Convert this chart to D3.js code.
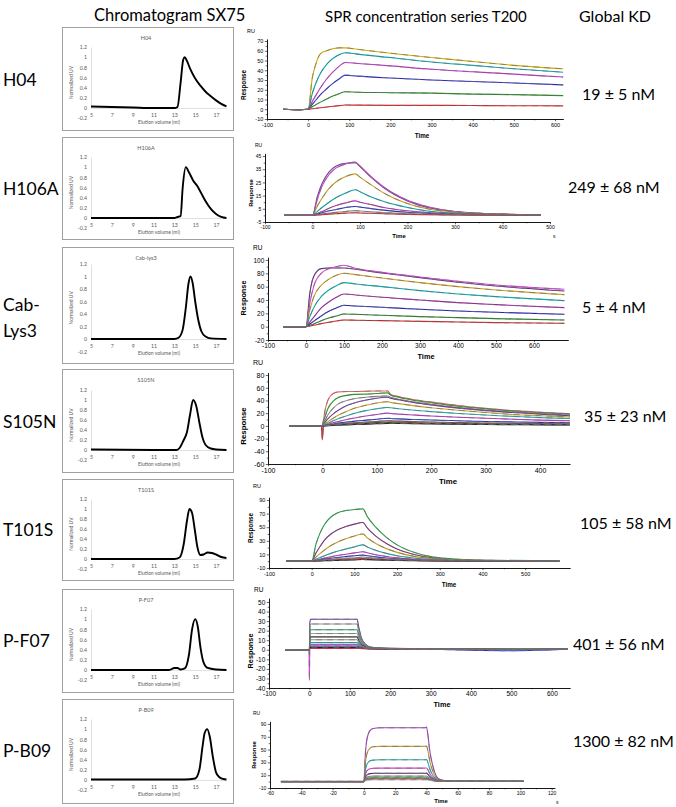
<!DOCTYPE html>
<html><head><meta charset="utf-8">
<script src="https://cdn.jsdelivr.net/npm/d3@7"></script>
<style>body{margin:0;background:#fff} svg{display:block}</style>
</head><body>
<svg id="c" width="676" height="807"></svg>
<script>
// ---------------- DATA ----------------
const sampleLabels = [["H04"],["H106A"],["Cab-","Lys3"],["S105N"],["T101S"],["P-F07"],["P-B09"]];
const chromTitles = ["H04","H106A","Cab-lys3","S105N","T101S","P-F07","P-B09"];
const kdLabels = ["19 ± 5 nM","249 ± 68 nM","5 ± 4 nM","35 ± 23 nM","105 ± 58 nM","401 ± 56 nM","1300 ± 82 nM"];
const headers = ["Chromatogram SX75","SPR concentration series T200","Global KD"];

const chromYTicks = [-0.2,0,0.2,0.4,0.6,0.8,1,1.2];
const chromXTicks = [5,7,9,11,13,15,17];

// elution volume (ml), normalized UV
const chromH04 = [[5,0.03],[7,0.02],[9,0.01],[11,0.0],[13,0.0],[13.3,0.02],[13.6,0.5],[13.85,0.95],[14.0,1.0],[14.2,0.93],[14.5,0.78],[15,0.58],[15.5,0.44],[16,0.32],[16.5,0.23],[17,0.15],[17.5,0.08],[18,0.03]];
const chromH106A = [[5,0],[9,0],[13,0.0],[13.3,0.02],[13.6,0.04],[13.8,0.6],[14.1,1.0],[14.4,0.9],[14.8,0.74],[15.2,0.63],[15.6,0.48],[16,0.33],[16.5,0.18],[17,0.08],[17.5,0.02],[18,0.0]];
const chromCab = [[5,0],[9,0],[13,0],[13.4,0.02],[13.8,0.15],[14.1,0.5],[14.35,0.88],[14.55,1.0],[14.75,0.9],[15.0,0.6],[15.3,0.3],[15.6,0.12],[16,0.04],[16.5,0.01],[18,0]];
const chromS105N = [[5,0.01],[11,0],[13.2,0.0],[13.5,0.04],[13.9,0.2],[14.2,0.35],[14.5,0.7],[14.8,1.0],[15.1,0.88],[15.4,0.55],[15.7,0.25],[16,0.1],[16.5,0.03],[17,0.01],[18,0]];
const chromT101S = [[5,0],[9,0],[13,0],[13.5,0.03],[13.9,0.3],[14.2,0.75],[14.45,1.0],[14.7,0.92],[14.95,0.6],[15.2,0.25],[15.5,0.08],[15.8,0.09],[16.2,0.13],[16.6,0.12],[17,0.09],[17.5,0.04],[18,0.02]];
const chromPF07 = [[5,0],[9,0],[12.5,0],[13.0,0.04],[13.3,0.04],[13.6,0.01],[14,0.03],[14.4,0.3],[14.7,0.8],[15.0,1.0],[15.25,0.85],[15.5,0.45],[15.8,0.15],[16.2,0.04],[17,0.01],[18,0]];
const chromPB09 = [[5,0.01],[9,0.01],[14,0.01],[15.0,0.03],[15.4,0.2],[15.7,0.65],[15.9,0.92],[16.15,1.0],[16.4,0.85],[16.7,0.45],[17.0,0.15],[17.3,0.06],[17.7,0.02],[18,0.01]];
const chromData = [chromH04,chromH106A,chromCab,chromS105N,chromT101S,chromPF07,chromPB09];

// SPR tick labels
const sprXTicks = [
  [-100,0,100,200,300,400,500,600],
  [-100,0,100,200,300,400,500],
  [-100,0,100,200,300,400,500,600],
  [-100,0,100,200,300,400],
  [-100,0,100,200,300,400,500],
  [-100,0,100,200,300,400,500,600],
  [-60,-40,-20,0,20,40,60,80,100,120]
];
const sprYTicks = [
  [-10,0,10,20,30,40,50,60,70],
  [-5,5,15,25,35,45],
  [-20,0,20,40,60,80,100],
  [-60,-40,-20,0,20,40,60,80],
  [-10,10,30,50,70,90],
  [-40,-30,-20,-10,0,10,20,30,40,50],
  [-10,10,30,50,70,90]
];

// SPR time points (s) and responses (RU)
const timesH04 = [-60,-20,0,10,20,30,45,60,75,90,120,200,300,400,500,620];
const sprH04 = [
  [0,-0.5,0,32,48,57,60,62,63,63,61.5,57.5,53,49,45,41.5],
  [0,-0.5,0,16,28,37,46,52,56,58,56.5,53,48.5,45,41.5,38],
  [0,-0.5,0,8,15,22,31,38,44,48,47,44.5,41,38.5,36,33],
  [0,-0.5,0,5,10,15,21,26.5,31,35,34,32,30,28.5,27,25],
  [0,-0.5,0,2.5,5,7.3,10.5,13.5,16,18,17.5,17,16.5,15.5,15,14],
  [0,-0.5,0,0.5,1,1.5,2.3,3,3.7,4.3,4.2,4,4,3.8,3.6,3.5]
];
const colorsH04 = ["#d4aa00","#00a8b0","#c030c8","#2828c8","#228a22","#dd2222"];

const timesH106A = [-60,-20,0,10,20,35,50,70,90,100,120,150,200,250,300,400,480];
const sprH106A = [
  [0,0,0,14,24,33,37.5,39.5,40,37,30,21,11,5.5,3,1,0.5],
  [0,0,0,12,22,31,36,39,40.5,37.5,30.5,21.5,11.5,6,3,1,0.5],
  [0,0,0,7,13,20.5,25.5,29.5,31.5,29,24,17,9,4.5,2.5,1,0.5],
  [0,0,0,3,6,10,13.5,17,19.5,18,14.5,10.5,6,3,1.8,0.8,0.4],
  [0,0,0,1.5,3,5.5,7.5,9.5,11,10,8.5,6,3.5,2,1.2,0.6,0.3],
  [0,0,0,1,2,3.5,4.5,6,6.8,6.3,5.3,4,2.4,1.5,0.9,0.4,0.2],
  [0,0,0,0.5,1,1.7,2.3,3,3.6,3.3,2.8,2.1,1.3,0.8,0.5,0.2,0.1],
  [0,0,0,0.3,0.6,1,1.3,1.7,2,1.8,1.6,1.2,0.8,0.5,0.3,0.1,0]
];
const colorsH106A = ["#7a3a9a","#d040d0","#c8a020","#00a8b0","#b030b0","#3030c0","#909090","#cc2222"];

const timesCab = [-60,-20,0,10,20,40,60,80,100,130,200,300,400,500,680];
const sprCab = [
  [0,0,0,50,75,87,88,88,88,86,80.5,73.5,66.5,61,53.5],
  [0,0,0,35,60,80,87,90,92,87.5,81.5,74.5,68,62.5,56],
  [0,0,0,25,44,62,71,77,80,78,73,66,60,55,48],
  [0,0,0,15,28,45,55,61.5,66,64,60,54,49,45,39],
  [0,0,0,7,14,28,37,44,49,47.5,44,40,36,33,28.5],
  [0,0,0,4,8,16,23,28,32,31,29,26,23.5,21.5,18.5],
  [0,0,0,2,4,9,13,16,19,18.5,17,15,13.5,12,10],
  [0,0,0,1,2,4.5,6.5,8.5,10,9.7,9,8,7,6,5]
];
const colorsCab = ["#5a2a7a","#e040e0","#d0a020","#00b0b0","#a020a0","#2020c0","#208020","#d02020"];

const timesS105N = [-60,-2,0,2,5,10,20,30,45,60,80,100,120,125,140,170,200,250,300,350,400,455];
const sprS105N = [
  [0,0,0,10,25,40,51,53.5,54,54,54.5,55,55,50,46,41,37.5,32,27.5,24,21.5,19],
  [0,0,0,6,15,27,39,45,48,49.5,50,51,52,48.5,45,40,36.5,31,27,23.5,21,18.5],
  [0,0,0,4,9,17,28,35,40,43,45,46.5,47,45,42,37.5,34,29,25,22,19.5,17],
  [0,0,0,2.5,6,11,19,25,32,36.5,40.5,43.5,45,43.5,41,36.5,33,28,24,21,18.5,16],
  [0,0,0,1.5,3.5,6.5,12,17,23,28,32.5,36,38,37,35,31.5,28.5,24.5,21,18,16,14],
  [0,0,0,1,2,4,8,11.5,16,20,24,27,29,28.5,27,24.5,22.5,19.5,17,15,13,11.5],
  [0,0,-10,0.5,1.2,2.5,5,7,10,12.5,15.5,18,20,19.5,18.5,17,15.5,13.5,12,10.5,9,8],
  [0,0,0,0.3,0.7,1.5,3,4.3,6,7.5,9,10.5,12,11.7,11,10,9.2,8,7,6.2,5.5,5],
  [0,0,0,0.2,0.5,1,2,3,4,5,6,7,8,7.8,7.4,6.7,6,5.2,4.5,4,3.6,3.3],
  [0,0,-22,0.1,0.3,0.7,1.5,2.2,3,3.8,4.5,5.3,6,5.9,5.6,5.1,4.6,4,3.5,3,2.7,2.5],
  [0,0,0,0.1,0.2,0.5,1,1.6,2.3,3,3.6,4.3,5,4.9,4.6,4.2,3.8,3.2,2.8,2.4,2.1,2],
  [0,0,0,0,0.1,0.3,0.7,1.1,1.6,2.1,2.7,3.3,4,3.9,3.7,3.3,3,2.6,2.2,1.9,1.6,1.5]
];
const colorsS105N = ["#f06868","#20a020","#909090","#7030a0","#d0a020","#20b0b0","#c030c0","#2030c0","#555555","#e02020","#106010","#222222"];

const timesT101S = [-60,-20,0,10,20,30,45,60,80,100,120,130,150,175,200,250,300,400,580];
const sprT101S = [
  [0,0,0,25,42,54,65,71,74.5,76,77,66,50,35,24,11,5,1.5,0.5],
  [0,0,0,12,22,31,40,46,51,54.5,57,49,37,26,18,8.5,4,1.2,0.4],
  [0,0,0,6,11.5,16.5,23,28,33,37,40,34.5,26,18.5,13,6,3,1,0.3],
  [0,0,0,3,5.5,8,11.5,14.5,18,21,24,21,16,11.5,8,4,2,0.7,0.2],
  [0,0,0,1.5,3,4.5,6.5,8.3,10.3,12.2,14,12.3,9.5,7,5,2.5,1.3,0.5,0.2],
  [0,0,0,1,2,3,4.3,5.5,6.8,8,9,8,6.3,4.7,3.4,1.8,1,0.4,0.1],
  [0,0,0,0.6,1.2,1.8,2.6,3.4,4.2,5,6,5.3,4.2,3.2,2.4,1.3,0.7,0.3,0.1],
  [0,0,0,0.4,0.8,1.2,1.7,2.2,2.8,3.4,4,3.6,2.9,2.2,1.6,0.9,0.5,0.2,0],
  [0,0,0,0.2,0.4,0.6,0.9,1.2,1.6,2,2.5,2.3,1.9,1.4,1,0.6,0.3,0.1,0]
];
const colorsT101S = ["#20a040","#7a2a7a","#c8a020","#20a0a0","#c030c0","#2030c0","#909090","#d02020","#222222"];

const timesPF07 = [-60,-20,-1,0,1,3,10,40,80,118,122,130,140,150,170,200,300,400,500,640];
const sprPF07 = [
  [0,-0.5,0,0,28,32,32,32,32,32,24,11,5.5,3,2,1.5,1,1,0.8,1],
  [0,-0.5,0,0,23,27,27,27,27,27,20,9.5,5,2.8,2,1.5,1,0.8,0.7,0.9],
  [0,0,0,0,18,21,21,21,21,21,16,7.5,4,2.5,1.8,1.3,0.9,0.7,0.6,0.8],
  [0,0,0,0,14.5,17,17,17,17,17,13,6.5,3.5,2.2,1.6,1.2,0.9,0.7,0.6,0.8],
  [0,0,0,0,11.5,13.5,13.5,13.5,13.5,13.5,10,5,3,2,1.5,1.2,0.9,0.7,0.5,0.8],
  [0,0,0,0,9,10.5,10.5,10.5,10.5,10.5,8,4,2.5,1.8,1.4,1.1,0.8,0.6,0.5,0.7],
  [0,0,0,0,6.5,7.5,7.5,7.5,7.5,7.5,5.8,3,2,1.5,1.2,1,0.8,0.5,0.4,0.7],
  [0,0,0,-32,4.5,5.5,5.5,5.5,5.5,5.5,4.3,2.4,1.7,1.4,1.1,0.9,0.6,0.4,0.3,0.6],
  [0,0,0,0,3.4,4,4,4,4,4,3.2,2,1.5,1.2,1,0.8,0.5,-0.5,-1,0.5],
  [0,0,0,0,2,2.5,2.5,2.5,2.5,2.5,2.2,1.6,1.3,1.1,1,0.8,0.6,0.4,0.3,0.6],
  [0,0,0,0,1.2,1.5,1.5,1.5,1.5,1.5,1.4,1.2,1.1,1,1,0.8,0.6,0.4,0.3,0.6]
];
const colorsPF07 = ["#6a3a9a","#909090","#20a060","#a0a0a0","#333333","#8a8a8a","#20a0a0","#e040e0","#2030c0","#111111","#e02040"];

const timesPB09 = [-53,-30,-10,-1,0,1,2,4,6,10,20,30,39,40,41,42,44,46,48,55,70,85,102];
const sprPB09 = [
  [0,0,0,0,0,46,67,80,83,84,84,84,84,85,71,50,25,10,4,1,0.8,0.6,0.5],
  [0,0,0,0,0,30,44,52.5,54.5,55,55,55,55,55.5,47,33,16.5,6.5,3,1,0.8,0.6,0.5],
  [0,0,0,0,0,19,27,32.5,33.5,34,34,34,34,34.5,29,20.5,10,4,2,1,0.8,0.6,0.5],
  [0,0,0,0,0,11.5,17,20,20.8,21,21,21,21,21.3,18,12.7,6.5,2.7,1.5,0.9,0.7,0.5,0.4],
  [0,0,0,0,0,7,10.5,12.5,13,13,13,13,13,13.2,11.1,8,4,1.8,1.1,0.8,0.6,0.5,0.4],
  [0,0,0,0,0,4.7,6.8,8.2,8.5,8.5,8.5,8.5,8.5,8.6,7.3,5.3,2.8,1.4,0.9,0.7,0.5,0.4,0.3],
  [0,0,0,0,0,3.3,4.8,5.8,6,6,6,6,6,6.1,5.2,3.8,2.1,1.1,0.8,0.6,0.5,0.4,0.3],
  [0.5,0.5,0.5,0.3,0,2.5,3.6,4.3,4.5,4.5,4.5,4.5,4.5,4.6,3.9,2.9,1.7,0.9,0.7,0.5,0.4,0.4,0.3],
  [0,0,0,0,0,1.6,2.4,2.9,3,3,3,3,3,3.1,2.6,2,1.2,0.7,0.5,0.4,0.3,0.3,0.2]
];
const colorsPB09 = ["#a040c0","#c0a030","#20b0b0","#d040d0","#4a2a6a","#909090","#20a040","#d03030","#a0a0a0"];

const sprTimes = [timesH04,timesH106A,timesCab,timesS105N,timesT101S,timesPF07,timesPB09];
const sprSeries = [sprH04,sprH106A,sprCab,sprS105N,sprT101S,sprPF07,sprPB09];
const sprColors = [colorsH04,colorsH106A,colorsCab,colorsS105N,colorsT101S,colorsPF07,colorsPB09];

// ---------------- LAYOUT ----------------
const TXT = "Lato, 'Open Sans', sans-serif";
const ARIAL = "'Liberation Sans', Arial, sans-serif";
const svg = d3.select("#c");

const chromBoxes = [
  {y:27, h:103, y12:47, y0:108},
  {y:137,h:102, y12:157,y0:218},
  {y:247,h:116, y12:264,y0:339},
  {y:369,h:103, y12:390,y0:450},
  {y:479,h:101, y12:499,y0:559},
  {y:589,h:103, y12:609,y0:670},
  {y:699,h:104, y12:719,y0:780}
];
const labelBase = [[86],[195],[311,337],[428],[536],[647],[757]];
const kdPos = [[582,100],[568,193],[582,313],[584,422],[580,529],[573,650],[573,747]];

const sprLayout = [
  {xd:[-100,620], xr:[267,563.2], yd:[-10,72], yr:[119,39.05], fs:5.5, ru:[247,33], resp:[244,85], time:[422,138], s:null},
  {xd:[-100,500], xr:[265,550], yd:[-5,47], yr:[222,153.4], fs:5, ru:[255,147], resp:[251,193], time:[399,238], s:[553,238]},
  {xd:[-100,690], xr:[268,568.2], yd:[-20,104], yr:[340,257.3], fs:6.5, ru:[253,250], resp:[244,298], time:[426,359], s:null},
  {xd:[-100,455], xr:[268,569.9], yd:[-60,84], yr:[464,372.5], fs:7, ru:[253,365], resp:[244,426], time:[448,484], s:null},
  {xd:[-100,605], xr:[269,570], yd:[-10,94], yr:[568,497.3], fs:5.5, ru:[253,488], resp:[251,528], time:[449,587], s:null},
  {xd:[-100,645], xr:[269,570], yd:[-40,54], yr:[688,598.2], fs:6.5, ru:[254,592], resp:[251,651], time:[442,707], s:null},
  {xd:[-60,122], xr:[270,554.8], yd:[-10,94], yr:[788,721.4], fs:5, ru:[253,715], resp:[254,755], time:[441,803], s:[556,804]}
];

// headers
svg.append("text").attr("x",94).attr("y",21).attr("font-family",TXT).attr("font-size",16.5).text(headers[0]);
svg.append("text").attr("x",325).attr("y",22).attr("font-family",TXT).attr("font-size",15).text(headers[1]);
svg.append("text").attr("x",579).attr("y",22).attr("font-family",TXT).attr("font-size",16).text(headers[2]);

// left labels and KD
sampleLabels.forEach((lines,i)=>{
  lines.forEach((t,j)=>svg.append("text").attr("x",3).attr("y",labelBase[i][j]).attr("font-family",TXT).attr("font-size",17.5).text(t));
  svg.append("text").attr("x",kdPos[i][0]).attr("y",kdPos[i][1]).attr("font-family",TXT).attr("font-size",16).text(kdLabels[i]);
});

// chromatograms
chromBoxes.forEach((b,i)=>{
  const g = svg.append("g");
  g.append("rect").attr("x",62.5).attr("y",b.y+0.5).attr("width",171).attr("height",b.h)
    .attr("fill","#fff").attr("stroke","#a0a0a0").attr("stroke-width",1);
  const x = d3.scaleLinear().domain([5,18]).range([91,91+13*10.42]);
  const y = d3.scaleLinear().domain([0,1.2]).range([b.y0,b.y12]);
  const ya = g.append("g").attr("transform",`translate(${x(5)},0)`)
    .call(d3.axisLeft(y).tickValues(chromYTicks).tickSize(0).tickPadding(4).tickFormat(d=>String(+d.toFixed(1))));
  ya.select(".domain").attr("stroke","#d9d9d9").attr("stroke-width",0.8);
  ya.selectAll("text").attr("font-family",TXT).attr("font-size",5.2).attr("fill","#595959");
  const xa = g.append("g").attr("transform",`translate(0,${y(0)})`)
    .call(d3.axisBottom(x).tickValues(chromXTicks).tickSize(0).tickPadding(5).tickFormat(d=>String(d)));
  xa.select(".domain").attr("stroke","#d9d9d9").attr("stroke-width",0.8);
  xa.selectAll("text").attr("font-family",TXT).attr("font-size",5.2).attr("fill","#595959");
  g.append("text").attr("x",146).attr("y",b.y+13).attr("text-anchor","middle").attr("font-family",TXT).attr("font-size",5.5).attr("fill","#595959").text(chromTitles[i]);
  g.append("text").attr("x",159).attr("y",y(0)+16).attr("text-anchor","middle").attr("font-family",TXT).attr("font-size",5).attr("fill","#595959").text("Elution volume (ml)");
  g.append("text").attr("transform",`translate(${73},${(y(1.2)+y(-0.2))/2}) rotate(-90)`).attr("text-anchor","middle").attr("font-family",TXT).attr("font-size",5).attr("fill","#595959").text("Normalized UV");
  g.append("path").datum(chromData[i])
    .attr("d",d3.line().x(d=>x(d[0])).y(d=>y(d[1])).curve(d3.curveMonotoneX))
    .attr("fill","none").attr("stroke","#000").attr("stroke-width",1.9).attr("stroke-linejoin","round");
});

// SPR panels
sprLayout.forEach((L,i)=>{
  const g = svg.append("g");
  const x = d3.scaleLinear().domain(L.xd).range(L.xr);
  const y = d3.scaleLinear().domain(L.yd).range(L.yr);
  const xt = sprXTicks[i], yt = sprYTicks[i];
  const xMinor = xt.slice(1).map((v,k)=>(v+xt[k])/2).filter(v=>v<=L.xd[1]);
  const yMinor = yt.slice(1).map((v,k)=>(v+yt[k])/2);
  const styleAxis = a=>{
    a.select(".domain").attr("stroke","#000").attr("stroke-width",0.7);
    a.selectAll(".tick line").attr("stroke","#000").attr("stroke-width",0.6);
    a.selectAll("text").attr("font-family",ARIAL).attr("font-size",L.fs).attr("fill","#000");
  };
  const by = y(L.yd[0]), lx = x(L.xd[0]);
  styleAxis(g.append("g").attr("transform",`translate(0,${by})`)
    .call(d3.axisBottom(x).tickValues(xMinor).tickSize(1.3).tickSizeOuter(0).tickFormat("")));
  styleAxis(g.append("g").attr("transform",`translate(${lx},0)`)
    .call(d3.axisLeft(y).tickValues(yMinor).tickSize(1.3).tickSizeOuter(0).tickFormat("")));
  styleAxis(g.append("g").attr("transform",`translate(0,${by})`)
    .call(d3.axisBottom(x).tickValues(xt).tickSize(2.2).tickSizeOuter(0).tickPadding(1.5).tickFormat(d=>String(d))));
  styleAxis(g.append("g").attr("transform",`translate(${lx},0)`)
    .call(d3.axisLeft(y).tickValues(yt).tickSize(2.2).tickSizeOuter(0).tickPadding(1.5).tickFormat(d=>String(d))));
  g.append("text").attr("x",L.ru[0]).attr("y",L.ru[1]).attr("font-family",ARIAL).attr("font-size",L.fs).text("RU");
  g.append("text").attr("transform",`translate(${L.resp[0]},${L.resp[1]}) rotate(-90)`).attr("text-anchor","middle")
    .attr("dominant-baseline","middle").attr("font-family",ARIAL).attr("font-weight","bold").attr("font-size",L.fs+0.8).text("Response");
  g.append("text").attr("x",L.time[0]).attr("y",L.time[1]).attr("text-anchor","middle").attr("font-family",ARIAL)
    .attr("font-weight","bold").attr("font-size",L.fs+0.8).text("Time");
  if (L.s) g.append("text").attr("x",L.s[0]).attr("y",L.s[1]).attr("font-family",ARIAL).attr("font-size",L.fs).text("s");
  const times = sprTimes[i];
  const line = d3.line().x((d,j)=>x(times[j])).y(d=>y(d)).curve(d3.curveMonotoneX);
  sprSeries[i].forEach((s,k)=>{
    g.append("path").attr("d",line(s)).attr("fill","none").attr("stroke",sprColors[i][k]).attr("stroke-width",1.1);
  });
  sprSeries[i].forEach((s,k)=>{
    g.append("path").attr("d",line(s)).attr("fill","none").attr("stroke","#707070").attr("stroke-width",0.7)
      .attr("stroke-dasharray","6 5").attr("stroke-dashoffset",k*3);
  });
});
</script></body></html>
